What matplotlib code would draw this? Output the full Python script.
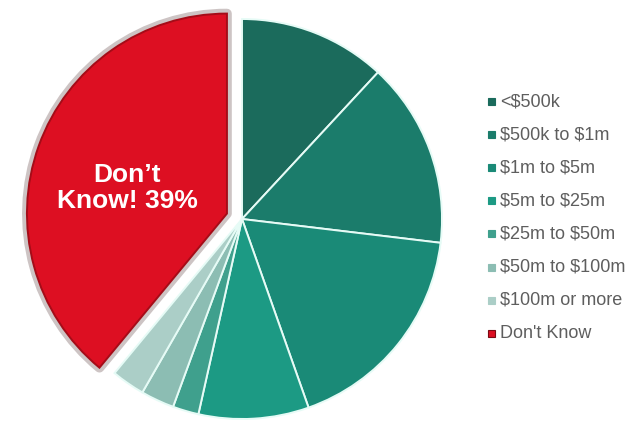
import matplotlib
matplotlib.use("Agg")
import matplotlib.pyplot as plt
from matplotlib.patches import Rectangle

plt.rcParams['font.family'] = ['Liberation Sans', 'DejaVu Sans']

# data (percent), clockwise from 12 o'clock
labels = ['<$500k', '$500k to $1m', '$1m to $5m', '$5m to $25m',
          '$25m to $50m', '$50m to $100m', '$100m or more', "Don't Know"]
shares = [11.9, 15.0, 17.7, 8.9, 2.1, 2.7, 2.7, 39.0]
colors = ['#1b6b5c', '#1b7c6b', '#1a8a77', '#1c9a84',
          '#3fa08d', '#8cbdb3', '#abcec7', '#dd0f22']
explode = [0, 0, 0, 0, 0, 0, 0, 0.08]

W, H = 632, 423
fig = plt.figure(figsize=(W / 100, H / 100), dpi=100)
cx, cy, r = 242, 219, 200
ax = fig.add_axes([(cx - r) / W, (H - cy - r) / H, 2 * r / W, 2 * r / H])

# teal wedges with thin light separators
wedges, _ = ax.pie(shares, colors=colors, startangle=90, counterclock=False,
                   explode=explode,
                   wedgeprops=dict(edgecolor='#e6fbf6', linewidth=1.4))

# the red "don't know" slice: soft grey rim plus darker bevel edge
red = wedges[-1]
red.set_edgecolor('#cdc4c4')
red.set_linewidth(7)
red.set_joinstyle('round')
w2, _ = ax.pie(shares, colors=colors, startangle=90, counterclock=False,
               explode=explode,
               wedgeprops=dict(edgecolor='none', linewidth=0))
for i, w in enumerate(w2):
    if i < len(w2) - 1:
        w.set_visible(False)
    else:
        w.set_edgecolor('#a50c18')
        w.set_linewidth(1.4)

ax.set_xlim(-1, 1)
ax.set_ylim(-1, 1)
ax.set_aspect('equal')
ax.axis('off')
for w in wedges + w2:
    w.set_clip_on(False)

ax.text((127 - cx) / r, (cy - 188) / r, 'Don\u2019t\nKnow! 39%',
        ha='center', va='center', color='white', fontsize=19,
        fontweight='bold', linespacing=1.1)

# legend drawn by hand to keep the tall row spacing
x0, y0, step = 488, 102, 33
for i, (lab, col) in enumerate(zip(labels, colors)):
    y = y0 + i * step
    ec = '#7a0a12' if i == len(labels) - 1 else col
    fig.patches.append(Rectangle(((x0) / W, (H - y - 3.5) / H), 7 / W, 7 / H,
                                 transform=fig.transFigure, facecolor=col,
                                 edgecolor=ec, linewidth=0.8))
    fig.text((x0 + 12) / W, (H - y) / H, lab.replace('$', r'\$'),
             ha='left', va='center', fontsize=13, color='#5e5e5e')

fig.savefig('out.png', dpi=100)
